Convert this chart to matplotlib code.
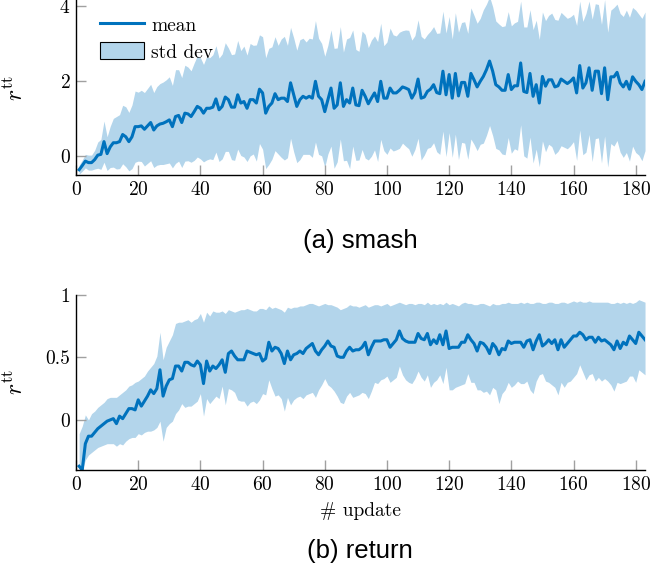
import numpy as np
import matplotlib
matplotlib.use("Agg")
import matplotlib.pyplot as plt
from matplotlib.lines import Line2D
from matplotlib.patches import Patch

# smash: mean reward per update and its std dev
smash_mean = [
    -0.36, -0.25, -0.13, -0.17, -0.17, -0.09, 0.03, 0.05, 0.39, 0.07,
    0.25, 0.36, 0.36, 0.39, 0.58, 0.52, 0.39, 0.52, 0.79, 0.79,
    0.81, 0.72, 0.81, 0.90, 0.70, 0.81, 0.86, 0.88, 0.92, 0.97,
    0.79, 1.06, 1.09, 0.90, 1.15, 1.13, 1.06, 1.19, 1.33, 1.28,
    1.15, 1.28, 1.28, 1.31, 1.53, 1.24, 1.33, 1.58, 1.51, 1.31,
    1.31, 1.64, 1.42, 1.46, 1.28, 1.51, 1.51, 1.42, 1.79, 1.69,
    1.15, 1.33, 1.42, 1.67, 1.51, 1.55, 1.55, 1.46, 1.96, 1.64,
    1.33, 1.51, 1.60, 1.55, 1.60, 1.55, 2.00, 1.60, 1.51, 1.19,
    1.51, 1.82, 1.28, 1.37, 1.96, 1.33, 1.51, 1.42, 1.82, 1.37,
    1.35, 1.76, 1.60, 1.40, 1.55, 1.69, 1.46, 2.00, 1.55, 1.55,
    1.82, 1.69, 1.69, 1.76, 1.85, 1.82, 1.78, 1.55, 1.70, 2.06,
    1.55, 1.58, 1.73, 1.79, 1.91, 1.70, 1.67, 2.27, 1.64, 2.18,
    1.55, 2.21, 1.61, 1.97, 1.97, 1.60, 2.21, 2.04, 1.85, 2.00,
    2.13, 2.31, 2.54, 2.27, 1.91, 1.85, 1.76, 1.76, 2.18, 1.78,
    1.88, 1.88, 2.49, 1.73, 1.70, 2.21, 1.60, 1.91, 1.42, 2.13,
    1.87, 2.04, 2.04, 1.85, 1.88, 2.06, 2.00, 1.94, 2.00, 2.09,
    1.69, 2.42, 1.82, 1.96, 2.36, 1.76, 2.27, 2.27, 1.67, 2.36,
    1.51, 2.12, 2.12, 2.24, 1.96, 1.85, 2.00, 1.79, 2.12, 2.00,
    1.91, 1.78, 2.00,
]
smash_std = [
    0.12, 0.15, 0.18, 0.20, 0.20, 0.25, 0.35, 0.40, 0.55, 0.45,
    0.55, 0.65, 0.70, 0.72, 0.78, 0.80, 0.78, 0.85, 0.95, 0.92,
    0.95, 0.98, 1.00, 1.02, 1.00, 1.05, 1.08, 1.10, 1.12, 1.15,
    1.10, 1.25, 1.22, 1.20, 1.28, 1.25, 1.22, 1.30, 1.35, 1.35,
    1.30, 1.38, 1.35, 1.40, 1.42, 1.38, 1.40, 1.45, 1.38, 1.40,
    1.42, 1.45, 1.40, 1.48, 1.42, 1.50, 1.45, 1.55, 1.45, 1.50,
    1.48, 1.55, 1.50, 1.52, 1.45, 1.58, 1.65, 1.50, 1.48, 1.52,
    1.50, 1.60, 1.55, 1.50, 1.55, 1.58, 1.62, 1.55, 1.50, 1.48,
    1.45, 1.55, 1.60, 1.52, 1.50, 1.45, 1.62, 1.75, 1.55, 1.48,
    1.45, 1.58, 1.65, 1.50, 1.55, 1.52, 1.60, 1.55, 1.40, 1.50,
    1.60, 1.55, 1.52, 1.55, 1.50, 1.55, 1.58, 1.55, 1.52, 1.58,
    1.65, 1.55, 1.52, 1.55, 1.55, 1.58, 1.62, 1.60, 1.65, 1.55,
    1.58, 1.62, 1.70, 1.60, 1.62, 1.68, 1.75, 1.72, 1.70, 1.68,
    1.78, 1.75, 1.72, 1.72, 1.70, 1.68, 1.70, 1.72, 1.68, 1.70,
    1.68, 1.72, 1.65, 1.72, 1.75, 1.70, 1.78, 1.72, 1.70, 1.72,
    1.75, 1.72, 1.78, 1.80, 1.75, 1.78, 1.76, 1.74, 1.72, 1.70,
    1.80, 1.72, 1.78, 1.85, 1.78, 1.90, 1.80, 1.78, 1.85, 1.82,
    1.80, 1.78, 1.85, 1.82, 1.85, 1.88, 1.90, 1.92, 1.85, 1.90,
    1.88, 1.90, 1.85,
]

# return: mean plus the upper / lower edge of the band
return_mean = [
    -0.37, -0.40, -0.19, -0.13, -0.13, -0.10, -0.07, -0.05, -0.03, -0.01,
    0.00, 0.01, -0.03, 0.03, 0.01, 0.05, 0.09, 0.09, 0.08, 0.16,
    0.11, 0.15, 0.19, 0.24, 0.21, 0.25, 0.40, 0.19, 0.27, 0.32,
    0.33, 0.43, 0.43, 0.39, 0.46, 0.46, 0.44, 0.43, 0.47, 0.44,
    0.29, 0.47, 0.39, 0.43, 0.41, 0.44, 0.48, 0.38, 0.53, 0.55,
    0.51, 0.48, 0.48, 0.48, 0.55, 0.54, 0.53, 0.52, 0.53, 0.47,
    0.49, 0.62, 0.55, 0.58, 0.57, 0.53, 0.45, 0.55, 0.48, 0.52,
    0.53, 0.55, 0.53, 0.57, 0.59, 0.61, 0.55, 0.52, 0.56, 0.59,
    0.63, 0.59, 0.58, 0.51, 0.50, 0.50, 0.55, 0.58, 0.55, 0.56,
    0.56, 0.58, 0.62, 0.52, 0.58, 0.63, 0.63, 0.63, 0.64, 0.64,
    0.58, 0.61, 0.64, 0.71, 0.65, 0.63, 0.62, 0.62, 0.62, 0.69,
    0.65, 0.64, 0.69, 0.60, 0.64, 0.61, 0.68, 0.60, 0.71, 0.57,
    0.58, 0.58, 0.58, 0.62, 0.62, 0.68, 0.64, 0.61, 0.55, 0.62,
    0.61, 0.58, 0.53, 0.61, 0.58, 0.52, 0.57, 0.56, 0.63, 0.61,
    0.62, 0.62, 0.62, 0.58, 0.63, 0.64, 0.56, 0.63, 0.68, 0.59,
    0.61, 0.64, 0.61, 0.64, 0.56, 0.64, 0.58, 0.61, 0.64, 0.67,
    0.67, 0.70, 0.68, 0.64, 0.66, 0.66, 0.62, 0.66, 0.63, 0.64,
    0.62, 0.60, 0.56, 0.63, 0.57, 0.62, 0.60, 0.67, 0.64, 0.61,
    0.70, 0.67, 0.64,
]
return_upper = [
    -0.11, -0.05, 0.04, 0.00, 0.05, 0.07, 0.10, 0.12, 0.14, 0.17,
    0.18, 0.18, 0.18, 0.20, 0.22, 0.24, 0.27, 0.28, 0.30, 0.31,
    0.33, 0.35, 0.39, 0.42, 0.45, 0.51, 0.70, 0.48, 0.58, 0.63,
    0.68, 0.77, 0.78, 0.78, 0.79, 0.80, 0.78, 0.80, 0.81, 0.85,
    0.78, 0.86, 0.83, 0.87, 0.86, 0.86, 0.87, 0.85, 0.88, 0.87,
    0.86, 0.87, 0.88, 0.88, 0.89, 0.88, 0.87, 0.87, 0.89, 0.89,
    0.88, 0.91, 0.89, 0.90, 0.89, 0.88, 0.86, 0.90, 0.89, 0.90,
    0.90, 0.91, 0.91, 0.92, 0.93, 0.93, 0.92, 0.91, 0.92, 0.93,
    0.92, 0.92, 0.91, 0.90, 0.88, 0.89, 0.90, 0.92, 0.91, 0.91,
    0.90, 0.91, 0.92, 0.90, 0.91, 0.92, 0.92, 0.91, 0.92, 0.93,
    0.91, 0.92, 0.93, 0.94, 0.93, 0.92, 0.93, 0.93, 0.92, 0.93,
    0.93, 0.92, 0.94, 0.92, 0.93, 0.92, 0.93, 0.92, 0.94, 0.92,
    0.93, 0.92, 0.91, 0.93, 0.94, 0.93, 0.93, 0.92, 0.92, 0.93,
    0.93, 0.92, 0.91, 0.93, 0.92, 0.92, 0.93, 0.93, 0.94, 0.93,
    0.93, 0.93, 0.94, 0.93, 0.94, 0.93, 0.93, 0.94, 0.94, 0.93,
    0.93, 0.94, 0.94, 0.93, 0.93, 0.94, 0.94, 0.93, 0.94, 0.95,
    0.94, 0.95, 0.94, 0.94, 0.95, 0.94, 0.94, 0.94, 0.94, 0.94,
    0.94, 0.93, 0.93, 0.94, 0.93, 0.94, 0.93, 0.94, 0.93, 0.94,
    0.96, 0.95, 0.94,
]
return_lower = [
    -0.40, -0.40, -0.32, -0.28, -0.26, -0.24, -0.22, -0.21, -0.20, -0.19,
    -0.19, -0.19, -0.21, -0.19, -0.20, -0.17, -0.15, -0.14, -0.14, -0.11,
    -0.12, -0.10, -0.09, -0.09, -0.08, -0.06, -0.01, -0.17, -0.06, -0.03,
    -0.01, 0.05, 0.08, 0.13, 0.10, 0.11, 0.11, 0.13, 0.15, 0.21,
    0.03, 0.17, 0.13, 0.16, 0.19, 0.17, 0.27, 0.12, 0.25, 0.24,
    0.22, 0.16, 0.15, 0.15, 0.11, 0.14, 0.15, 0.13, 0.16, 0.21,
    0.20, 0.32, 0.25, 0.19, 0.20, 0.17, 0.07, 0.18, 0.12, 0.16,
    0.18, 0.19, 0.17, 0.20, 0.21, 0.22, 0.18, 0.24, 0.28, 0.33,
    0.28, 0.26, 0.23, 0.19, 0.14, 0.13, 0.19, 0.22, 0.18, 0.19,
    0.20, 0.22, 0.21, 0.17, 0.23, 0.30, 0.29, 0.32, 0.33, 0.35,
    0.30, 0.32, 0.34, 0.43, 0.36, 0.32, 0.30, 0.29, 0.33, 0.39,
    0.34, 0.31, 0.36, 0.26, 0.30, 0.32, 0.36, 0.29, 0.42, 0.24,
    0.24, 0.26, 0.27, 0.28, 0.29, 0.37, 0.30, 0.30, 0.24, 0.24,
    0.22, 0.23, 0.20, 0.26, 0.24, 0.13, 0.21, 0.24, 0.30, 0.26,
    0.28, 0.31, 0.29, 0.29, 0.31, 0.24, 0.21, 0.31, 0.36, 0.37,
    0.31, 0.30, 0.28, 0.26, 0.20, 0.30, 0.26, 0.30, 0.31, 0.34,
    0.37, 0.44, 0.38, 0.32, 0.36, 0.37, 0.31, 0.34, 0.31, 0.33,
    0.31, 0.28, 0.23, 0.30, 0.29, 0.30, 0.31, 0.35, 0.35, 0.30,
    0.40, 0.38, 0.36,
]

x_ticks = [0, 20, 40, 60, 80, 100, 120, 140, 160, 180]
smash_yticks = [0, 2, 4]
return_yticks = [0, 0.5, 1]
return_yticklabels = ["0", "0.5", "1"]

blue = "#0072BD"
light = "#B3D5EB"

plt.rcParams['font.family'] = ['cmr10', 'DejaVu Serif']
plt.rcParams['mathtext.fontset'] = 'cm'
plt.rcParams['axes.unicode_minus'] = False
plt.rcParams['axes.formatter.use_mathtext'] = True


def style_axes(ax):
    ax.spines['top'].set_visible(False)
    ax.spines['right'].set_visible(False)
    ax.spines['left'].set_linewidth(1.0)
    ax.spines['bottom'].set_linewidth(1.0)
    ax.tick_params(direction='in', length=7, width=1.0, color='#a0a0a0',
                   labelsize=14, pad=4)
    ax.set_xlim(0, 183)
    ax.set_xticks(x_ticks)


fig = plt.figure(figsize=(6.71, 5.67), dpi=100)

# --- smash ---
ax = fig.add_axes([0.1133, 0.6914, 0.848, 0.3086])
xs = np.arange(1, len(smash_mean) + 1)
sm = np.array(smash_mean)
sd = np.array(smash_std)
ax.fill_between(xs, sm - sd, sm + sd, color=light, linewidth=0)
ax.plot(xs, sm, color=blue, linewidth=2.2)
style_axes(ax)
ax.set_ylim(-0.5, 4.17)
ax.set_yticks(smash_yticks)
ax.set_ylabel(r"$r^{\mathrm{tt}}$", fontsize=17)
ax.yaxis.set_label_coords(-0.085, 0.5)
handles = [Line2D([], [], color=blue, linewidth=2.2),
           Patch(facecolor=light, edgecolor='black', linewidth=0.8)]
ax.legend(handles, ["mean", "std dev"], loc='upper left', frameon=False,
          bbox_to_anchor=(0.028, 0.955), borderaxespad=0, fontsize=14,
          handlelength=2.3, handleheight=0.95, labelspacing=0.4,
          handletextpad=0.35)

fig.text(0.537, 0.575, "(a) smash", ha='center', va='center',
         family='Liberation Sans', fontsize=18.5)

# --- return ---
bx = fig.add_axes([0.1133, 0.1711, 0.848, 0.3092])
xr = np.arange(1, len(return_mean) + 1)
bx.fill_between(xr, return_lower, return_upper, color=light, linewidth=0)
bx.plot(xr, return_mean, color=blue, linewidth=2.2)
style_axes(bx)
bx.set_ylim(-0.4, 1.0)
bx.set_yticks(return_yticks)
bx.set_yticklabels(return_yticklabels)
bx.set_ylabel(r"$r^{\mathrm{tt}}$", fontsize=17)
bx.yaxis.set_label_coords(-0.085, 0.5)
bx.set_xlabel("# update", fontsize=14, labelpad=6)

fig.text(0.537, 0.029, "(b) return", ha='center', va='center',
         family='Liberation Sans', fontsize=18.5)

fig.savefig("out.png", dpi=100)
